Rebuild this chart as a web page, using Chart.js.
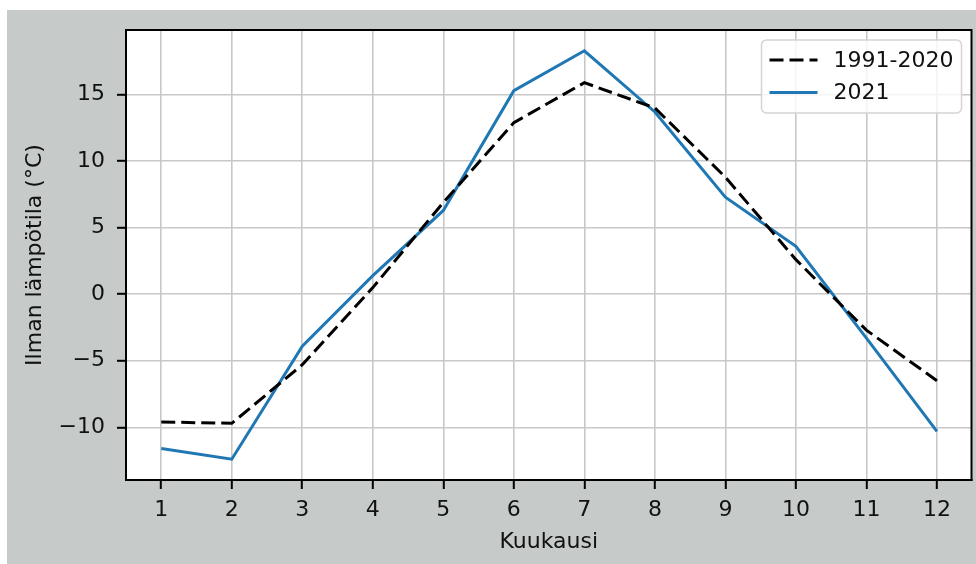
<!DOCTYPE html>
<html>
<head>
<meta charset="utf-8">
<script src="https://cdn.jsdelivr.net/npm/chart.js@4.4.1/dist/chart.umd.min.js"></script>
<style>
  body { margin: 0; background: #fff; }
  #wrap { width: 976px; height: 564px; }
</style>
</head>
<body>
<div id="wrap"><canvas id="tempChart" width="976" height="564"></canvas></div>
<script>
// monthly mean air temperature
const months = [1, 2, 3, 4, 5, 6, 7, 8, 9, 10, 11, 12];
const normal = [-9.6, -9.7, -5.3, 0.5, 6.9, 12.9, 15.9, 14.0, 8.8, 2.6, -2.7, -6.5];
const year2021 = [-11.6, -12.4, -3.9, 1.4, 6.3, 15.3, 18.3, 13.7, 7.3, 3.6, -3.3, -10.3];
const seriesLabels = ["1991-2020", "2021"];
const xTitle = "Kuukausi";
const yTitle = "Ilman lämpötila (°C)";

const FONT = "'DejaVu Sans', sans-serif";
const TEXT = "#111";

const toPoints = (vals) => vals.map((v, i) => ({ x: months[i], y: v }));
const fmt = (v) => (v < 0 ? "\u2212" + Math.abs(v) : String(v));

// grey figure background + full spine box
const frame = {
  id: "frame",
  beforeDraw(chart) {
    const ctx = chart.ctx;
    ctx.save();
    ctx.fillStyle = "#fff";
    ctx.fillRect(0, 0, chart.width, chart.height);
    ctx.fillStyle = "#c6cac9";
    ctx.fillRect(7, 10, chart.width - 7, chart.height - 10);
    const a = chart.chartArea;
    ctx.fillStyle = "#fff";
    ctx.fillRect(a.left, a.top, a.right - a.left, a.bottom - a.top);
    ctx.restore();
  },
  afterDraw(chart) {
    const ctx = chart.ctx;
    const a = chart.chartArea;
    ctx.save();
    ctx.strokeStyle = "#000";
    ctx.lineWidth = 2;
    ctx.strokeRect(a.left, a.top, a.right - a.left, a.bottom - a.top);
    ctx.restore();
  },
};

// matplotlib style legend in the upper right corner
const boxLegend = {
  id: "boxLegend",
  afterDatasetsDraw(chart) {
    const ctx = chart.ctx;
    const a = chart.chartArea;
    const x0 = a.right - 210, y0 = a.top + 10, w = 200, h = 73;
    ctx.save();
    ctx.beginPath();
    ctx.roundRect(x0, y0, w, h, 5);
    ctx.fillStyle = "rgba(255,255,255,0.8)";
    ctx.fill();
    ctx.strokeStyle = "#d4d4d4";
    ctx.lineWidth = 1.5;
    ctx.stroke();
    ctx.font = "22px " + FONT;
    ctx.textBaseline = "middle";
    chart.data.datasets.forEach((ds, i) => {
      const y = y0 + 20 + i * 32.5;
      ctx.beginPath();
      ctx.setLineDash(ds.borderDash || []);
      ctx.lineCap = "butt";
      ctx.strokeStyle = ds.borderColor;
      ctx.lineWidth = ds.borderWidth;
      ctx.moveTo(x0 + 8, y);
      ctx.lineTo(x0 + 56, y);
      ctx.stroke();
      ctx.setLineDash([]);
      ctx.fillStyle = TEXT;
      ctx.fillText(ds.label, x0 + 72, y + 1);
    });
    ctx.restore();
  },
};

new Chart(document.getElementById("tempChart"), {
  type: "line",
  data: {
    datasets: [
      {
        label: seriesLabels[0],
        data: toPoints(normal),
        borderColor: "#000",
        borderWidth: 3,
        borderDash: [14, 6],
        pointRadius: 0,
        tension: 0,
      },
      {
        label: seriesLabels[1],
        data: toPoints(year2021),
        borderColor: "#1f77b4",
        borderWidth: 3,
        pointRadius: 0,
        tension: 0,
      },
    ],
  },
  options: {
    responsive: false,
    animation: false,
    layout: { padding: { left: 7, top: 30, right: 4.5, bottom: 0 } },
    plugins: {
      legend: { display: false },
      tooltip: { enabled: false },
    },
    scales: {
      x: {
        type: "linear",
        min: 0.5,
        max: 12.49,
        afterFit(scale) { scale.height = 84; },
        ticks: {
          stepSize: 1,
          includeBounds: false,
          padding: 8,
          color: TEXT,
          font: { family: FONT, size: 22 },
          callback: fmt,
        },
        grid: { color: "#c8c8c8", lineWidth: 1.6, tickLength: 9, tickColor: "#000", tickWidth: 2 },
        border: { color: "#000", width: 2 },
        title: {
          display: true,
          text: xTitle,
          color: TEXT,
          font: { family: FONT, size: 22 },
          padding: { top: 0, bottom: 9 },
        },
      },
      y: {
        min: -13.96,
        max: 19.86,
        afterFit(scale) { scale.width = 119; },
        ticks: {
          stepSize: 5,
          includeBounds: false,
          padding: 12,
          color: TEXT,
          font: { family: FONT, size: 22 },
          callback: fmt,
        },
        grid: { color: "#c8c8c8", lineWidth: 1.6, tickLength: 9, tickColor: "#000", tickWidth: 2 },
        border: { color: "#000", width: 2 },
        title: {
          display: true,
          text: yTitle,
          color: TEXT,
          font: { family: FONT, size: 22 },
          padding: { top: 15, bottom: 0 },
        },
      },
    },
  },
  plugins: [frame, boxLegend],
});
</script>
</body>
</html>
